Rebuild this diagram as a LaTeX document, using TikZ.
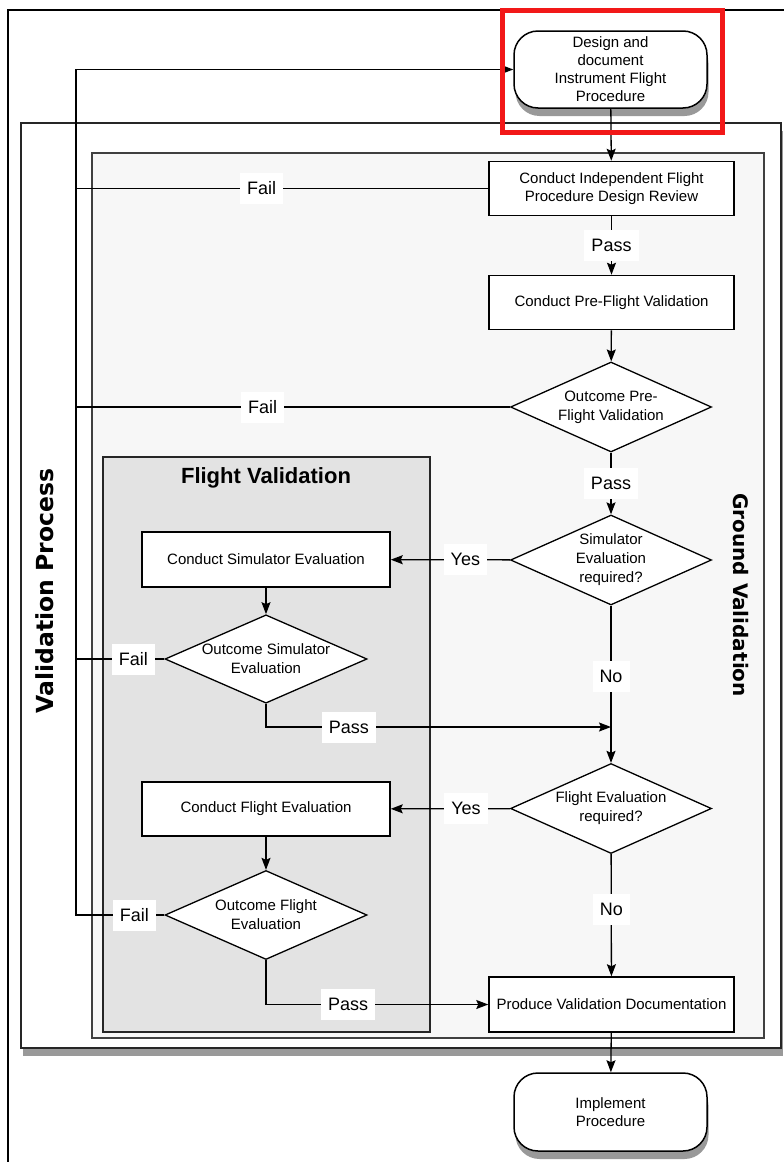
\documentclass[tikz,border=0pt]{standalone}
\usepackage{fontspec}
\setmainfont{Liberation Sans}
\newfontfamily\groupfont{DejaVu Sans}
\usetikzlibrary{shapes.geometric,arrows.meta,shadows}
\definecolor{groundgray}{HTML}{F7F7F7}
\definecolor{flightgray}{HTML}{E3E3E3}
\definecolor{hilite}{HTML}{F21818}
\tikzset{soft shadow/.style={general shadow={shadow xshift=1.5pt,shadow yshift=-8pt,
        fill=black,opacity=.4}}}
\tikzset{task/.style={%
        rectangle,
        draw,fill=white,line width=1.5pt,
        minimum width=245pt,minimum height=54pt,
        inner sep=2pt,align=center,
        font=\fontsize{15}{18}\selectfont}}
\tikzset{check/.style={%
        diamond,aspect=2.2,
        draw,fill=white,line width=1.3pt,
        minimum width=201pt,minimum height=90pt,
        inner sep=0pt,align=center,
        font=\fontsize{15}{19}\selectfont}}
\tikzset{endpoint/.style={%
        rectangle,rounded corners=24pt,
        draw,fill=white,line width=1.5pt,
        minimum width=193pt,minimum height=77pt,
        align=center,
        font=\fontsize{15}{18}\selectfont,
        soft shadow}}
\tikzset{verdict/.style={fill=white,inner xsep=7pt,minimum height=31pt,
        font=\fontsize{18}{20}\selectfont}}
\tikzset{flow/.style={line width=1.3pt,-{Stealth[length=12pt,width=9pt,inset=2pt]}}}
\tikzset{back/.style={line width=1.3pt}}
\tikzset{frame/.style={line width=2pt,draw=black!85}}

\begin{document}
\begin{tikzpicture}[x=1pt,y=-1pt]
  \useasboundingbox (0,0) rectangle (784,1162);
  \draw [line width=2pt] (7.5,1162) -- (7.5,10) -- (784,10);

  % nested process frames
  \draw [frame,fill=white,soft shadow] (21,123) rectangle (781,1048);
  \draw [frame,line width=1.6pt,draw=black!75,fill=groundgray] (92,153) rectangle (764,1038);
  \draw [frame,line width=1.6pt,fill=flightgray] (103,457) rectangle (430,1032);
  \node [rotate=90,font=\groupfont\bfseries\fontsize{23.5}{26}\selectfont] (vp) at (45,591) {Validation Process};
  \node [rotate=-90,font=\groupfont\bfseries\fontsize{20}{22}\selectfont] (gv) at (741,595) {Ground Validation};
  \node [font=\bfseries\fontsize{22}{24}\selectfont] (fv) at (266,478) {Flight Validation};

  \node [endpoint] (start) at (610.5,69.5) {Design and\\document\\Instrument Flight\\Procedure};
  \node [task] (review) at (611.5,188.5) {Conduct Independent Flight\\Procedure Design Review};
  \node [task] (prefl) at (611.5,302.5) {Conduct Pre-Flight Validation};
  \node [check] (outpre) at (611,407) {Outcome Pre-\\Flight Validation};
  \node [check] (simreq) at (611,560) {Simulator\\Evaluation\\required?};
  \node [task,minimum width=248pt,minimum height=55pt] (simeval) at (266,559.5) {Conduct Simulator Evaluation};
  \node [check,minimum width=202pt,minimum height=87pt] (outsim) at (266,659) {Outcome Simulator\\Evaluation};
  \node [check] (flreq) at (611,808.5) {Flight Evaluation\\required?};
  \node [task,minimum width=248pt] (fleval) at (266,809) {Conduct Flight Evaluation};
  \node [check,minimum width=202pt,minimum height=89pt] (outfl) at (266,915) {Outcome Flight\\Evaluation};
  \node [task,minimum height=55pt] (doc) at (611.5,1004.5) {Produce Validation Documentation};
  \node [endpoint,minimum height=78pt] (end) at (610.5,1112) {Implement\\Procedure};

  \coordinate (fb) at (76,915);
  \coordinate (join) at (611,727);

  \draw [flow] (start) -- (review);
  \draw [flow] (review) -- node [verdict] {Pass} (prefl);
  \draw [flow] (prefl) -- (outpre);
  \draw [flow] (outpre) -- node [verdict] {Pass} (simreq);
  \draw [flow] (simreq) -- node [verdict,pos=.375] {Yes} (simeval);
  \draw [flow] (simeval) -- (outsim);
  \draw [flow] (outsim) |- node [verdict,pos=.62] {Pass} (join);
  \draw [flow] (simreq) -- node [verdict,pos=.45] {No} (flreq);
  \draw [flow] (flreq) -- node [verdict,pos=.37] {Yes} (fleval);
  \draw [flow] (fleval) -- (outfl);
  \draw [flow] (outfl) |- node [verdict,pos=.685] {Pass} (doc);
  \draw [flow] (flreq) -- node [verdict,pos=.455] {No} (doc);
  \draw [flow] (doc) -- (end);

  % failures return to the design step
  \draw [flow] (outfl.west) -- node [verdict,pos=.34] {Fail} (fb) |- (start.west);
  \draw [back] (outsim.west) -- node [verdict,pos=.35] {Fail} (outsim.west -| fb);
  \draw [back] (outpre.west) -- node [verdict,pos=.57] {Fail} (outpre.west -| fb);
  \draw [back] (review.west) -- node [verdict,pos=.55] {Fail} (review.west -| fb);

  \draw [line width=5pt,hilite] (502,10.5) rectangle (722,132);
\end{tikzpicture}
\end{document}
